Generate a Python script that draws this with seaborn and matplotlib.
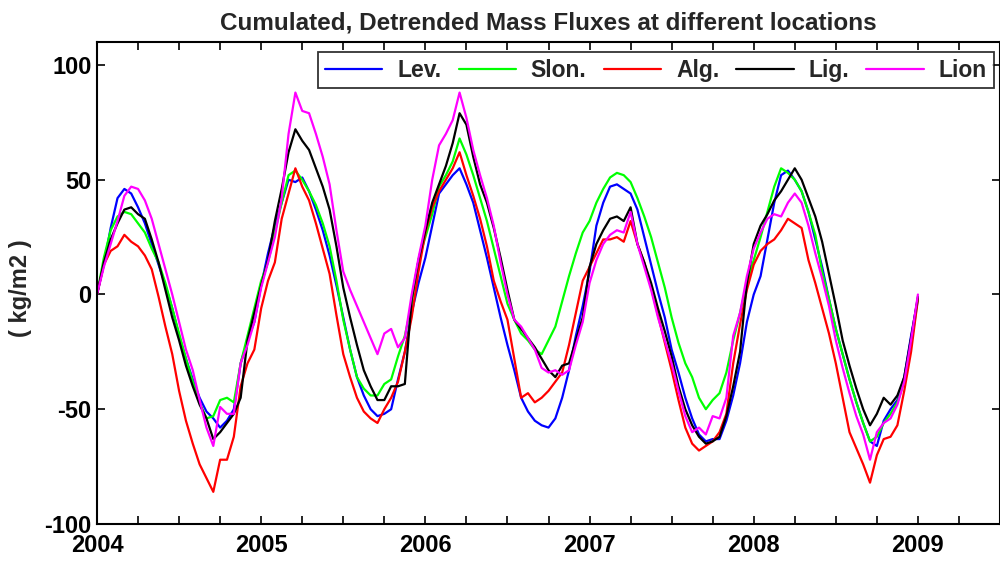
import numpy as np
import pandas as pd
import matplotlib
matplotlib.use("Agg")
import matplotlib.pyplot as plt
from matplotlib.ticker import MultipleLocator, FuncFormatter
import seaborn as sns

# half-monthly samples, 2004.0 .. 2009.0
t = 2004 + np.arange(121) / 24.0

lev = [0, 13, 29, 42, 46, 44, 38, 31, 22, 13, 4, -6, -18, -28, -37, -45, -51, -54, -58, -55, -50, -30, -20, -12,
       4, 18, 30, 40, 50, 49, 51, 45, 37, 28, 17, 4, -10, -24, -36, -44, -50, -53, -52, -50, -37, -25, -8, 5,
       16, 30, 44, 48, 52, 55, 48, 40, 28, 16, 3, -10, -22, -33, -45, -51, -55, -57, -58, -54, -45, -33, -18, -5,
       10, 30, 40, 47, 48, 46, 44, 37, 25, 13, 1, -10, -24, -34, -45, -54, -61, -64, -63, -63, -55, -44, -30, -12,
       0, 8, 24, 40, 52, 54, 50, 45, 36, 24, 12, -2, -15, -26, -37, -47, -56, -64, -66, -55, -50, -46, -36, -18,
       -2]
slon = [0, 16, 28, 34, 36, 35, 31, 27, 20, 14, 5, -6, -17, -28, -38, -47, -54, -53, -46, -45, -47, -30, -18, -6,
        6, 14, 27, 40, 52, 54, 50, 45, 39, 31, 21, 6, -11, -24, -36, -41, -44, -44, -39, -37, -27, -18, -4, 15,
        25, 35, 47, 52, 58, 68, 61, 52, 42, 32, 20, 8, -4, -11, -17, -20, -24, -26, -20, -14, -3, 8, 18, 27,
        32, 40, 46, 51, 53, 52, 49, 42, 34, 25, 14, 3, -10, -21, -30, -36, -45, -50, -46, -43, -34, -20, -8, 5,
        15, 25, 36, 47, 55, 53, 50, 45, 36, 26, 10, -2, -15, -26, -37, -47, -56, -64, -62, -56, -52, -47, -38, -22,
        -2]
alg = [0, 13, 19, 21, 26, 23, 21, 17, 11, -1, -14, -26, -42, -55, -65, -74, -80, -86, -72, -72, -62, -40, -30, -24,
       -6, 6, 14, 33, 44, 55, 47, 41, 31, 20, 9, -9, -26, -36, -45, -51, -54, -56, -50, -45, -38, -25, -10, 10,
       27, 38, 45, 50, 55, 62, 52, 43, 33, 21, 6, -3, -11, -28, -45, -43, -47, -45, -42, -38, -34, -22, -8, 6,
       12, 18, 24, 24, 25, 23, 32, 22, 14, 3, -9, -21, -33, -46, -58, -65, -68, -66, -64, -60, -52, -30, -13, 2,
       13, 19, 22, 24, 28, 33, 31, 29, 15, 5, -6, -17, -30, -45, -60, -67, -74, -82, -70, -63, -62, -57, -42, -25,
       -2]
lig = [0, 14, 24, 31, 37, 38, 35, 33, 24, 14, 2, -10, -20, -31, -40, -48, -54, -63, -60, -56, -52, -45, -20, -8,
       4, 15, 32, 46, 62, 72, 67, 63, 55, 47, 37, 21, 3, -10, -22, -33, -40, -46, -46, -40, -40, -39, -2, 15,
       28, 40, 48, 56, 66, 79, 74, 60, 48, 40, 29, 16, 2, -11, -15, -19, -23, -28, -33, -36, -31, -30, -20, -10,
       12, 22, 28, 33, 34, 32, 38, 22, 14, 5, -6, -16, -27, -40, -50, -57, -62, -65, -64, -62, -53, -40, -25, 5,
       22, 30, 35, 41, 45, 50, 55, 50, 42, 34, 23, 9, -5, -20, -31, -41, -50, -57, -52, -45, -48, -44, -36, -19,
       -1]
lion = [0, 12, 22, 32, 43, 47, 46, 41, 33, 22, 11, 0, -12, -24, -33, -46, -58, -66, -49, -52, -52, -30, -22, -12,
        3, 14, 25, 42, 70, 88, 80, 79, 70, 60, 48, 28, 10, 2, -5, -12, -19, -26, -17, -15, -23, -19, 0, 16,
        30, 50, 65, 70, 76, 88, 77, 63, 52, 42, 30, 14, 0, -11, -14, -19, -24, -32, -34, -33, -35, -33, -22, -12,
        5, 15, 22, 26, 28, 27, 36, 22, 12, 2, -10, -20, -30, -42, -53, -60, -58, -61, -53, -54, -45, -18, -8, 8,
        20, 27, 33, 35, 34, 40, 44, 40, 30, 18, 7, -5, -20, -32, -43, -53, -61, -72, -60, -56, -54, -48, -38, -20,
        0]

names = ["Lev.", "Slon.", "Alg.", "Lig.", "Lion"]
series = [lev, slon, alg, lig, lion]
colors = ["#0000ff", "#00ff00", "#ff0000", "#000000", "#ff00ff"]

year_labels = ["2004", "2005", "2006", "2007", "2008", "2009"]
ytick_vals = [-100, -50, 0, 50, 100]

df = pd.concat([pd.DataFrame({"t": t, "v": s, "site": n}) for n, s in zip(names, series)],
               ignore_index=True)

sns.set_style("ticks")
plt.rcParams["font.family"] = ["Liberation Sans", "DejaVu Sans"]
plt.rcParams["font.weight"] = "bold"

fig = plt.figure(figsize=(10, 5.61), dpi=100)
ax = fig.add_axes([0.097, 0.066, 0.903, 0.859])

sns.lineplot(data=df, x="t", y="v", hue="site", hue_order=names,
             palette=dict(zip(names, colors)), linewidth=1.6, ax=ax,
             estimator=None, sort=False)

ax.set_xlim(2004, 2009.5)
ax.set_ylim(-100, 110)
ax.xaxis.set_major_locator(MultipleLocator(0.25))
year_map = {2004 + i: lab for i, lab in enumerate(year_labels)}
ax.xaxis.set_major_formatter(FuncFormatter(
    lambda v, p: year_map.get(int(round(v)), "") if abs(v - round(v)) < 1e-6 else ""))
ax.set_yticks(ytick_vals)
ax.set_yticklabels([str(v) for v in ytick_vals])

ax.tick_params(axis="both", direction="in", top=True, right=True,
               length=6, width=1.2, labelsize=17, colors="black")
ax.tick_params(axis="x", pad=7)
ax.tick_params(axis="y", pad=4)
for lab in ax.get_xticklabels() + ax.get_yticklabels():
    lab.set_fontweight("bold")
for sp in ax.spines.values():
    sp.set_linewidth(1.5)
    sp.set_color("black")

ax.set_xlabel("")
ax.set_ylabel("( kg/m2 )", fontsize=17, fontweight="bold")
ax.yaxis.set_label_coords(-0.072, 0.49)
ax.set_title("Cumulated, Detrended Mass Fluxes at different locations",
             fontsize=17.5, fontweight="bold", pad=9)

leg = ax.legend(loc="upper right", bbox_to_anchor=(0.993, 0.98), ncol=5,
                frameon=True, fancybox=False, borderaxespad=0,
                prop={"size": 16.5, "weight": "bold"},
                handlelength=2.5, handletextpad=0.65, columnspacing=0.75,
                borderpad=0.3)
leg.get_frame().set_edgecolor("black")
leg.get_frame().set_linewidth(1.3)
for h in leg.get_lines():
    h.set_linewidth(1.6)

fig.savefig("out.png", dpi=100)
